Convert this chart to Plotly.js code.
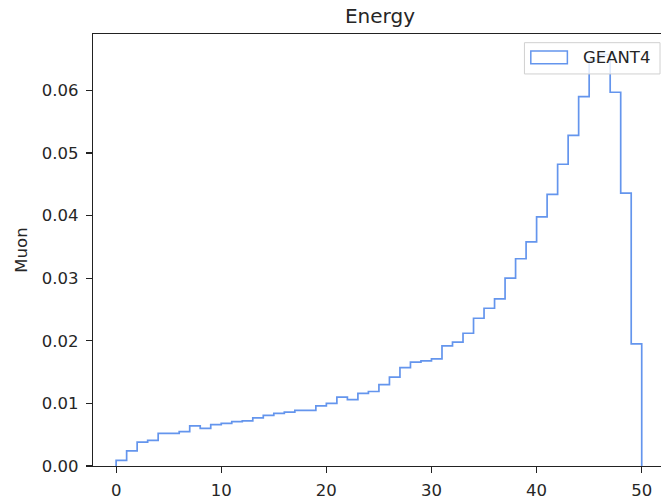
<!DOCTYPE html>
<html>
<head>
<meta charset="utf-8">
<script src="https://cdn.plot.ly/plotly-3.0.1.min.js"></script>
<style>
html, body { margin: 0; padding: 0; overflow: hidden; background: #fff; }
#chart { width: 670px; height: 499px; }
</style>
</head>
<body>
<div id="chart"></div>
<script>
// Histogram (density) of muon energy, 50 unit-width bins from 0 to 50
const binStart = 0;
const binWidth = 1;
const density = [
  0.0009, 0.0024, 0.0038, 0.0041, 0.0052, 0.0052, 0.0055, 0.0064, 0.0060, 0.0066,
  0.0068, 0.0071, 0.0072, 0.0077, 0.0081, 0.0084, 0.0086, 0.0089, 0.0089, 0.0096,
  0.0100, 0.0110, 0.0106, 0.0116, 0.0119, 0.0130, 0.0142, 0.0157, 0.0166, 0.0168,
  0.0171, 0.0192, 0.0198, 0.0212, 0.0236, 0.0252, 0.0267, 0.0300, 0.0331, 0.0358,
  0.0398, 0.0434, 0.0482, 0.0528, 0.0590, 0.0648, 0.0657, 0.0597, 0.0436, 0.0195
];
const seriesName = "GEANT4";
const xTicks = [0, 10, 20, 30, 40, 50];
const yTicks = [0, 0.01, 0.02, 0.03, 0.04, 0.05, 0.06];

// Build a step outline (like matplotlib histtype='step')
const xs = [binStart];
const ys = [0];
for (let i = 0; i < density.length; i++) {
  xs.push(binStart + i * binWidth);
  ys.push(density[i]);
}
xs.push(binStart + density.length * binWidth);
ys.push(0);

const lineColor = "#6495ED";
const textColor = "#262626";
const axisColor = "#222";

const trace = {
  type: "scatter",
  mode: "lines",
  x: xs,
  y: ys,
  name: seriesName,
  line: { color: lineColor, width: 1.7, shape: "hv" },
  showlegend: false,
  hoverinfo: "skip"
};

const layout = {
  width: 670,
  height: 499,
  margin: { l: 92.5, r: 2, t: 34, b: 32.5 },
  paper_bgcolor: "#fff",
  plot_bgcolor: "#fff",
  font: { family: "DejaVu Sans", size: 16.5, color: textColor },
  title: {
    text: "Energy",
    font: { family: "DejaVu Sans", size: 20, color: textColor },
    x: 380 / 670, xref: "container", xanchor: "center",
    y: 1 - 16 / 499, yref: "container", yanchor: "middle"
  },
  showlegend: false,
  xaxis: {
    range: [-2.2, 52.5],
    tickvals: xTicks,
    ticktext: xTicks.map(String),
    ticks: "outside", ticklen: 6, tickwidth: 1.2, tickcolor: axisColor,
    showline: true, linecolor: axisColor, linewidth: 1.2, mirror: true,
    showgrid: false, zeroline: false,
    ticklabelstandoff: 3
  },
  yaxis: {
    range: [0, 0.069],
    tickvals: yTicks,
    ticktext: yTicks.map(v => v.toFixed(2)),
    ticks: "outside", ticklen: 6, tickwidth: 1.2, tickcolor: axisColor,
    showline: true, linecolor: axisColor, linewidth: 1.2, mirror: true,
    showgrid: false, zeroline: false,
    ticklabelstandoff: 4,
    title: { text: "Muon", font: { family: "DejaVu Sans", size: 16.5, color: textColor }, standoff: 10 }
  },
  shapes: [
    { type: "rect", xref: "paper", yref: "paper", layer: "above",
      x0: 0.7503, x1: 0.9861, y0: 0.9075, y1: 0.9799,
      fillcolor: "rgba(255,255,255,0.8)", line: { color: "#d0d0d0", width: 1 } },
    { type: "rect", xref: "paper", yref: "paper", layer: "above",
      x0: 0.7614, x1: 0.8250, y0: 0.9313, y1: 0.9607,
      fillcolor: "rgba(0,0,0,0)", line: { color: lineColor, width: 1.5 } }
  ],
  annotations: [
    { text: seriesName, xref: "paper", yref: "paper", x: 0.8488, y: 0.9457,
      xanchor: "left", yanchor: "middle", showarrow: false,
      font: { family: "DejaVu Sans", size: 16.5, color: textColor } }
  ]
};

Plotly.newPlot("chart", [trace], layout, { displayModeBar: false, staticPlot: true });
</script>
</body>
</html>
